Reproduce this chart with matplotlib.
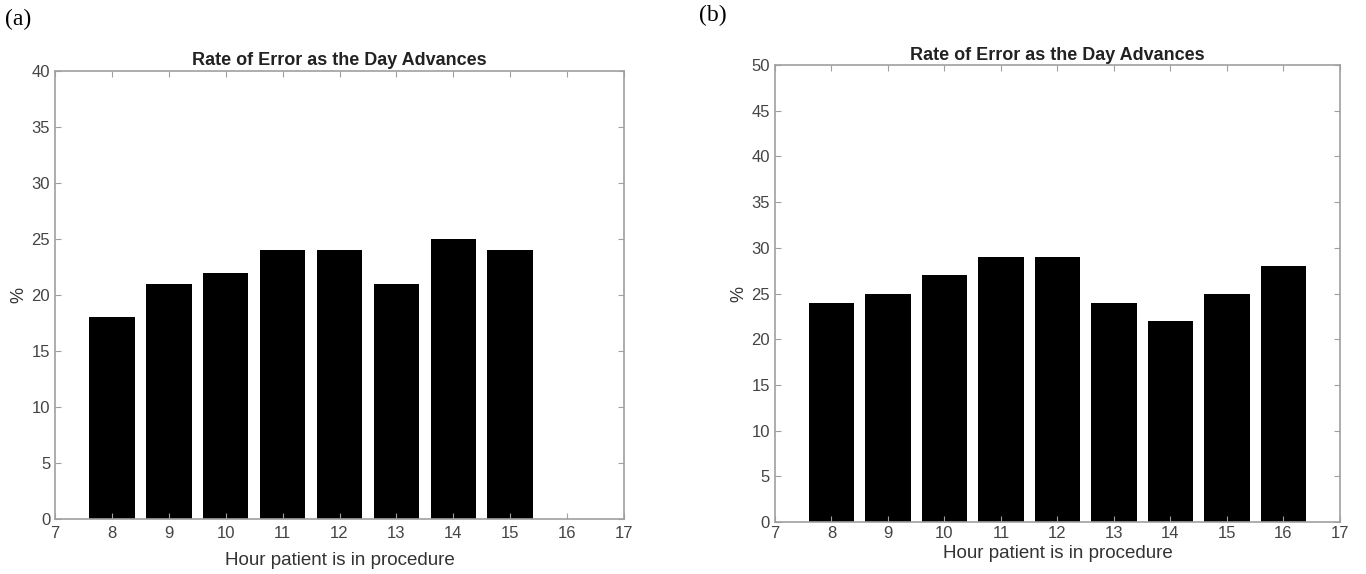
import matplotlib.pyplot as plt

# data
hours_a = [8, 9, 10, 11, 12, 13, 14, 15]
rate_a = [18, 21, 22, 24, 24, 21, 25, 24]

hours_b = [8, 9, 10, 11, 12, 13, 14, 15, 16]
rate_b = [24, 25, 27, 29, 29, 24, 22, 25, 28]

xticks = list(range(7, 18))

plt.rcParams["font.family"] = ["Liberation Sans", "DejaVu Sans"]

fig = plt.figure(figsize=(13.66, 5.74), dpi=100)
ax_a = fig.add_axes([0.0403, 0.0958, 0.4165, 0.7805])
ax_b = fig.add_axes([0.5673, 0.0906, 0.4136, 0.796])


def style(ax, ymax, xpad, tpad):
    ax.set_xlim(7, 17)
    ax.set_ylim(0, ymax)
    ax.set_xticks(xticks)
    ax.set_yticks(range(0, ymax + 1, 5))
    ax.tick_params(direction="in", top=True, right=True, length=4,
                   color="#a0a0a0", labelcolor="#444444", labelsize=12)
    ax.tick_params(axis="x", pad=tpad)
    for s in ax.spines.values():
        s.set_color("#a0a0a0")
        s.set_linewidth(1.2)
    ax.set_title("Rate of Error as the Day Advances", fontsize=13,
                 fontweight="bold", color="#222222", pad=4)
    ax.set_xlabel("Hour patient is in procedure", fontsize=13.5,
                  color="#333333", labelpad=xpad)
    ax.set_ylabel("%", fontsize=13, color="#333333", labelpad=3)


ax_a.bar(hours_a, rate_a, width=0.8, color="black")
style(ax_a, 40, 8, 5)

ax_b.bar(hours_b, rate_b, width=0.8, color="black")
style(ax_b, 50, 3, 3)

fig.text(0.004, 0.985, "(a)", fontsize=17, family="Liberation Serif", va="top")
fig.text(0.512, 0.992, "(b)", fontsize=17, family="Liberation Serif", va="top")

fig.savefig("out.png", dpi=100)
